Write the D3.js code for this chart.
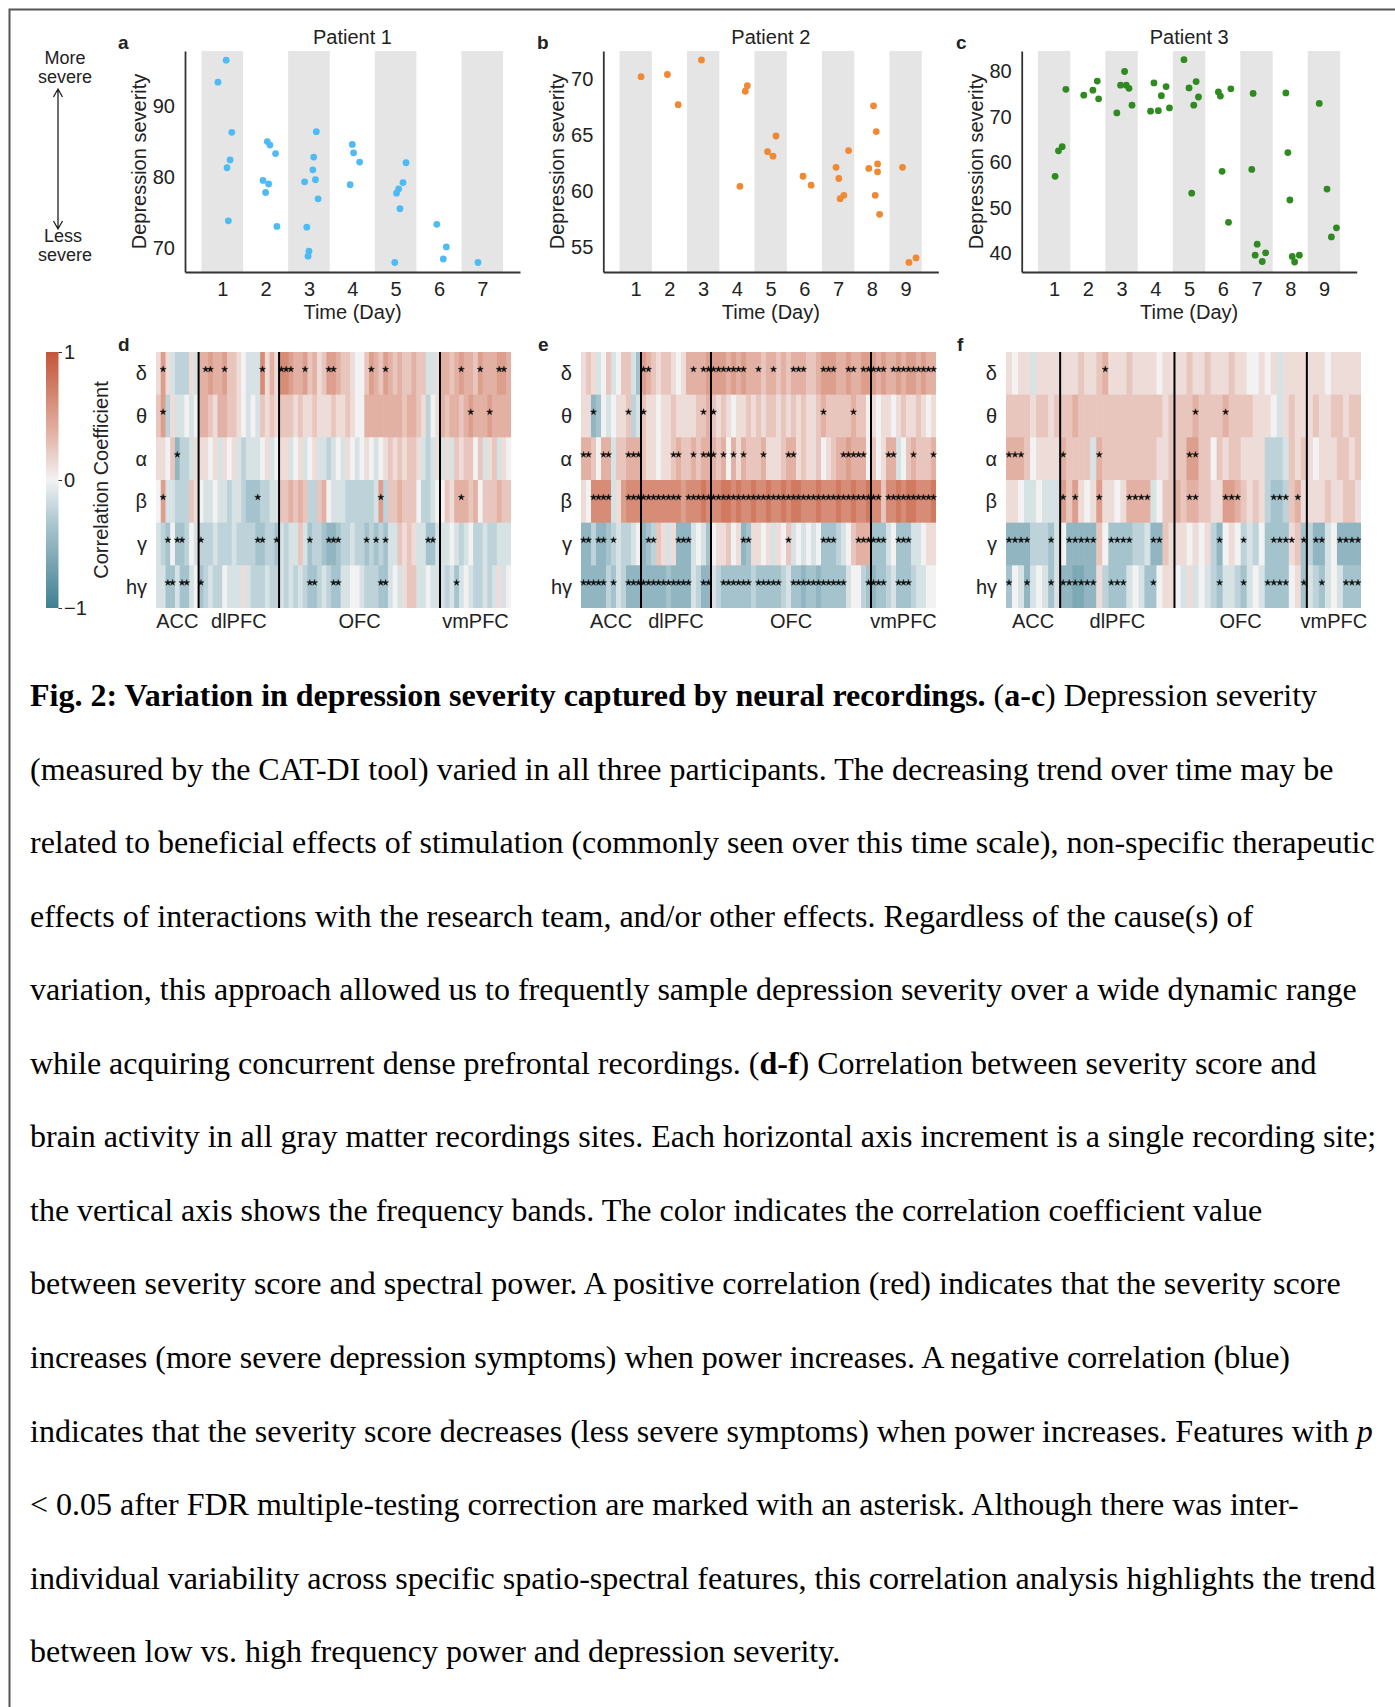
<!DOCTYPE html>
<html><head><meta charset="utf-8">
<script src="https://cdn.jsdelivr.net/npm/d3@7"></script>
<style>body{margin:0;background:#fff}svg{display:block}</style>
</head><body>
<svg id="fig" width="1395" height="1707"></svg>
<script>
// ---------------- Scatter data (time in days incl. jitter, severity) ----------------
const daysP1 = [1,2,3,4,5,6,7];
const daysP23 = [1,2,3,4,5,6,7,8,9];
const timeP1 = [1.09,0.90,1.22,1.18,1.11,1.14, 2.04,2.10,2.23,1.94,2.07,2.00,2.26, 3.17,3.11,3.09,2.90,3.15,3.21,2.95,3.00,2.98, 4.00,4.03,4.17,3.95, 5.24,5.17,5.07,5.02,5.10,4.98, 5.95,6.17,6.10, 6.90];
const sevP1  = [96.5,93.4,86.3,82.4,81.3,73.8, 85.0,84.5,83.3,79.5,79.0,77.8,73.0, 86.4,82.8,81.0,79.3,79.6,76.9,72.9,69.5,68.8, 84.6,83.4,82.1,78.9, 82.0,79.2,78.3,77.7,75.5,67.9, 73.3,70.1,68.4, 67.9];
const timeP2 = [1.16, 1.94,2.26, 2.95, 4.31,4.25,4.09, 5.16,4.91,5.07, 5.96,6.20, 7.31,6.94,7.02,7.17,7.06, 8.05,8.13,8.17,7.91,8.17,8.10,8.23, 8.91,9.31,9.10];
const sevP2  = [70.2, 70.4,67.7, 71.7, 69.4,68.9,60.4, 64.9,63.5,63.1, 61.3,60.5, 63.6,62.1,61.1,59.6,59.3, 67.6,65.3,62.4,62.0,61.7,59.6,57.9, 62.1,54.0,53.6];
const timeP3 = [1.35,1.24,1.13,1.03, 2.28,2.15,1.88,2.32, 3.09,2.97,3.14,3.22,3.31,2.86, 3.96,4.32,4.18,4.42,3.86,4.09, 4.85,5.21,5.00,5.28,5.14,5.08, 6.24,5.87,5.93,5.98,6.17, 6.90,6.86,7.02,7.27,6.96,7.17, 7.87,7.93,7.99,8.27,8.06,8.13, 8.86,9.09,9.37,9.22];
const sevP3  = [76.0,63.4,62.5,56.9, 77.8,75.8,74.7,73.9, 79.9,76.9,76.9,76.2,72.5,70.8, 77.4,76.6,74.6,71.9,71.2,71.3, 82.5,77.7,76.3,74.3,72.5,53.2, 76.1,75.4,74.5,58.0,46.8, 75.1,58.4,42.0,40.1,39.6,38.2, 75.2,62.1,51.7,39.6,39.3,38.1, 72.9,54.1,45.6,43.6];
const yTicksP1 = [70,80,90], yTicksP2 = [55,60,65,70], yTicksP3 = [40,50,60,70,80];

// ---------------- Heatmap data: correlation in level steps (1 step = 0.125) -------------
const bandLabels = ['δ','θ','α','β','γ','hγ'];
const regionNames = ['ACC','dlPFC','OFC','vmPFC'];
const regionSizesD = [9,17,34,15], regionSizesE = [12,14,32,13], regionSizesF = [9,19,22,9];

const dDelta = [1,4,1,-1,-2,-2,-2,1,-1, 3,3,4,3,3,4,2,2,1,0,-1,-1,-1,5,1,3,1, 5,5,4,3,3,4,2,3,1,2,4,4,3,2,2,1,0,0,2,4,3,2,4,3,2,3,2,2,3,2,2,-1,-1,1, 3,3,2,3,4,3,3,2,4,3,3,3,4,4,3];
const dTheta = [2,4,-2,1,-1,-1,0,-1,0, 3,3,2,1,3,3,2,2,1,0,-1,0,-1,2,1,2,1, 2,2,2,1,2,1,1,2,1,1,1,2,1,1,2,1,0,0,3,3,3,3,3,3,3,3,2,3,3,2,1,-2,0,1, 3,2,3,3,2,3,4,3,3,3,4,3,3,3,3];
const dAlpha = [1,1,0,2,-4,-2,-2,-1,1, 1,1,0,1,-1,1,0,1,-1,-2,-1,-1,-1,0,1,-1,0, 1,1,-1,0,1,-1,0,1,-1,-1,-2,-1,0,-1,1,0,-1,0,1,0,-1,0,1,2,1,2,1,2,2,1,-1,-2,-1,1, -1,1,-1,2,1,2,2,0,2,-1,1,2,-1,1,0];
const dBeta  = [0,4,-1,-1,-2,-2,-2,2,1, 0,-1,-1,0,-1,-1,-2,-1,-1,-2,-3,-3,-3,-2,-2,-1,-1, 2,2,3,2,3,2,-2,-2,2,3,0,-1,-1,-1,-2,-2,-2,-2,-2,-2,-1,4,-2,2,2,3,2,2,2,0,-2,-2,-1,0, 0,2,1,3,3,3,2,3,0,2,2,2,3,2,2];
const dGamma = [-1,-2,-3,0,-3,-3,-2,0,-1, -2,-2,-2,-1,-2,-2,-2,-1,-2,-2,-2,-2,-3,-3,-2,-2,-3, -1,-2,-1,-1,2,-1,-3,-2,-2,-3,-4,-4,-3,-2,-2,-1,-2,-2,-3,-2,-3,-2,-3,-1,-1,2,1,2,1,-1,-1,-3,-3,-1, -1,-1,0,-1,-2,-1,0,-2,-2,-1,-2,-2,-1,-1,-1];
const dHGamma= [-1,-1,-3,-3,-1,-3,-3,-1,0, -3,-2,-1,-2,-2,0,-1,-1,-1,1,-1,-2,-2,-2,-1,-2,-2, -1,-2,-1,-2,-1,-2,-3,-3,-2,-1,-2,-3,-3,-1,-1,0,0,-1,-2,-2,-2,-3,-3,-1,0,-1,1,2,2,-1,-1,0,-1,-1, -1,-2,-1,-3,-1,0,-1,-2,-2,-1,-2,-1,1,-1,0];
const dSigDelta = [1,10,11,14,22,26,27,28,31,36,37,45,48,64,68,72,73];
const dSigTheta = [1,66,70];
const dSigAlpha = [4];
const dSigBeta  = [1,21,47,64];
const dSigGamma = [2,4,5,9,21,22,25,32,36,37,38,44,46,48,57,58];
const dSigHGamma= [2,3,5,6,9,32,33,37,38,47,48,63];

const eDelta = [1,2,1,-1,0,2,-1,0,2,2,-1,-3, 4,3,2,1,2,2,1,0,1,3,3,3,3,4, 4,4,4,3,4,3,4,3,3,3,2,3,3,2,3,2,3,3,3,2,2,3,4,4,4,3,3,4,3,3,4,4, 4,3,4,3,3,4,3,4,4,3,4,3,3];
const eTheta = [1,1,-4,-3,0,-1,0,1,1,2,-2,-1, 2,1,1,0,1,1,2,1,1,1,1,2,2,3, 2,1,2,1,0,1,1,2,1,2,1,2,2,1,2,1,2,1,2,1,1,2,3,2,2,2,2,2,3,2,2,0, 1,0,1,1,0,1,2,1,1,2,1,0,1];
const eAlpha = [3,3,2,0,3,3,-1,2,2,3,3,3, 2,1,1,0,1,1,2,3,2,2,3,2,3,3, 3,2,3,0,3,1,3,2,2,2,3,1,1,1,2,3,3,1,2,1,1,2,0,1,2,3,3,4,3,3,3,0, 2,0,1,3,3,-1,0,2,3,2,2,2,3];
const eBeta  = [1,0,5,5,5,5,-1,1,4,5,5,5, 5,5,5,5,5,5,5,5,4,5,5,5,6,5, 5,5,6,6,5,6,5,5,6,5,5,6,5,5,6,5,6,6,5,5,5,6,5,5,5,6,5,5,6,5,5,6, 5,5,2,5,5,6,5,6,6,5,5,5,6];
const eGamma = [-4,-4,-2,-4,-4,-3,-2,-1,-2,-2,-1,0, -4,-3,-2,2,1,-1,1,-4,-4,-4,-1,0,-1,-3, 0,1,1,2,0,1,-4,-3,1,1,0,1,-1,1,0,2,-1,0,-1,0,-1,0,-3,-3,-3,-2,-1,0,2,3,3,3, -3,-3,-3,-1,0,-3,-3,-3,-1,-1,0,1,1];
const eHGamma= [-4,-4,-4,-4,-4,-2,-3,-1,-2,-4,-4,-4, -4,-4,-4,-4,-4,-3,-4,-4,-4,-4,-1,-2,-4,-4, -1,-2,-3,-3,-3,-3,-3,-3,-2,-3,-3,-3,-3,-3,-2,-1,-3,-3,-4,-3,-3,-4,-3,-3,-3,-3,-3,-1,0,0,-2,-3, -4,-3,-3,-2,-1,-3,-3,-3,-2,-1,-1,0,0];
const eSigDelta = [12,13,22,24,25,26,27,28,29,30,31,32,35,38,42,43,44,48,49,50,53,54,56,57,58,59,60,62,63,64,65,66,67,68,69,70];
const eSigTheta = [2,9,12,24,26,48,54];
const eSigAlpha = [0,1,4,5,9,10,11,18,19,22,24,25,26,28,30,32,36,41,42,52,53,54,55,56,61,62,66,70];
const eSigBeta  = [2,3,4,5,9,10,11,12,13,14,15,16,17,18,19,21,22,23,24,25,26,27,28,29,30,31,32,33,34,35,36,37,38,39,40,41,42,43,44,45,46,47,48,49,50,51,52,53,54,55,56,57,58,59,61,62,63,64,65,66,67,68,69,70];
const eSigGamma = [0,1,3,4,6,13,14,19,20,21,32,33,41,48,49,50,55,56,57,58,59,60,63,64,65];
const eSigHGamma= [0,1,2,3,4,6,9,10,11,12,13,14,15,16,17,18,19,20,21,24,25,28,29,30,31,32,33,35,36,37,38,39,42,43,44,45,46,47,48,49,50,51,52,57,58,59,60,63,64,65];

const fDelta = [1,0,1,1,-1,1,1,1,1, 1,1,1,2,1,1,2,3,1,1,1,2,1,1,1,1,0,1,1, 1,1,2,1,1,2,1,1,1,2,1,1,0,0,1,0,1,-1,1,1,1,1, 1,1,1,0,1,1,1,1,1];
const fTheta = [2,2,2,2,1,2,2,1,2, 2,2,3,2,2,2,2,2,2,2,2,2,2,2,2,2,2,1,2, 2,2,2,3,2,2,2,2,3,2,2,2,2,1,1,1,0,-1,1,2,1,1, 1,2,1,1,2,2,1,2,2];
const fAlpha = [3,3,3,2,0,1,1,1,1, 3,2,2,2,2,-1,3,2,2,2,2,2,2,2,2,2,1,1,2, 2,2,4,4,2,2,0,2,1,2,2,1,1,1,1,-2,-2,-2,-1,2,1,2, 1,0,1,1,1,2,2,1,2];
const fBeta  = [1,1,0,-1,-1,0,-1,-1,-1, 4,2,4,1,0,1,4,1,1,0,1,3,3,3,3,-1,0,2,2, 3,2,3,3,2,2,1,1,4,4,3,2,1,2,1,-2,-3,-3,-2,2,3,1, 1,1,1,2,1,1,2,2,1];
const fGamma = [-4,-4,-4,-4,-2,-2,-2,-3,-1, 0,-4,-4,-4,-4,-4,2,0,-3,-3,-3,-3,-2,-2,-1,-4,-4,2,1, 1,1,0,1,0,1,-2,-4,0,1,0,-2,-1,-2,0,-3,-3,-3,-3,1,2,-3, -2,-4,-4,-1,0,-4,-4,-4,-4];
const fHGamma= [-3,0,-1,-4,-1,0,-1,-3,-1, -4,-4,-5,-5,-4,-4,1,-2,-3,-3,-3,-1,0,-1,-3,-3,0,1,1, 0,-1,1,-1,0,-1,-2,-3,-1,-1,-2,-3,-1,0,-1,-3,-3,-3,-3,0,1,-3, -1,-2,-3,-1,0,-1,-3,-3,-3];
const fSigDelta = [16];
const fSigTheta = [31,36];
const fSigAlpha = [0,1,2,9,15,30,31];
const fSigBeta  = [9,11,15,20,21,22,23,30,31,36,37,38,44,45,46,48];
const fSigGamma = [0,1,2,3,7,10,11,12,13,14,17,18,19,20,24,25,35,39,44,45,46,47,49,51,52,55,56,57,58];
const fSigHGamma= [0,3,7,9,10,11,12,13,14,17,18,19,24,35,39,43,44,45,46,49,52,56,57,58];

const colorbarTicks = [1, 0, -1];
const LEVEL = 0.125;   // correlation per level step

// ---------------- Drawing ----------------
const svg = d3.select('#fig');
const SANS = "'Liberation Sans', Arial, Helvetica, sans-serif";
const SERIF = "'Liberation Serif', 'Times New Roman', serif";
const INK = '#222';

// frame
svg.append('path').attr('d','M9.5,1707 V9.5 H1395').attr('fill','none').attr('stroke','#555').attr('stroke-width',2);

const color = d3.scaleLinear()
  .domain([-1,-2/3,-1/3,0,1/3,2/3,1])
  .range(['#3f7f93','#76a3b1','#abc7d0','#f2f2f2','#e4b7ab','#d4866f','#c3553a'])
  .interpolate(d3.interpolateRgb).clamp(true);

function letter(t, x, y){
  svg.append('text').attr('x',x).attr('y',y).text(t)
    .attr('font-family',SANS).attr('font-weight','bold').attr('font-size',19).attr('fill',INK);
}

const PT = 51, PB = 272;
function scatterPanel(cfg){
  const x = d3.scaleLinear().domain(cfg.xDomain).range([cfg.left, cfg.left+335]);
  const y = d3.scaleLinear().domain(cfg.yDomain).range([PB, PT]);
  const g = svg.append('g');
  g.selectAll('rect.band').data(cfg.days.filter(d => d % 2 === 1)).join('rect')
    .attr('x', d => x(d-0.48)).attr('width', d => x(d+0.48)-x(d-0.48))
    .attr('y', PT).attr('height', PB-PT).attr('fill','#e5e5e5');
  const xa = g.append('g').attr('transform',`translate(0,${PB})`)
    .call(d3.axisBottom(x).tickValues(cfg.days).tickSize(0).tickSizeOuter(0).tickPadding(10).tickFormat(d3.format('d')));
  const ya = g.append('g').attr('transform',`translate(${cfg.left},0)`)
    .call(d3.axisLeft(y).tickValues(cfg.yTicks).tickSize(0).tickSizeOuter(0).tickPadding(10).tickFormat(d3.format('d')));
  [xa, ya].forEach(a => {
    a.select('.domain').attr('stroke','#333').attr('stroke-width',1.8);
    a.selectAll('text').attr('font-family',SANS).attr('font-size',20).attr('fill',INK);
  });
  g.selectAll('circle').data(cfg.time.map((t,i)=>[t,cfg.sev[i]])).join('circle')
    .attr('cx', d => x(d[0])).attr('cy', d => y(d[1])).attr('r',3.4).attr('fill',cfg.color);
  g.append('text').attr('x', cfg.left+167.5).attr('y', 44).attr('text-anchor','middle')
    .attr('font-family',SANS).attr('font-size',20).attr('fill',INK).text(cfg.title);
  g.append('text').attr('x', cfg.left+167.5).attr('y', 319).attr('text-anchor','middle')
    .attr('font-family',SANS).attr('font-size',20).attr('fill',INK).text('Time (Day)');
  g.append('text').attr('transform',`translate(${cfg.left-46},${(PT+PB)/2}) rotate(-90)`)
    .attr('text-anchor','middle').attr('dy','0.35em')
    .attr('font-family',SANS).attr('font-size',20).attr('fill',INK).text('Depression severity');
}

scatterPanel({left:185, xDomain:[0.14,7.87], yDomain:[66.56,97.8], days:daysP1, yTicks:yTicksP1, time:timeP1, sev:sevP1, color:'#4fbbf5', title:'Patient 1'});
scatterPanel({left:603.3, xDomain:[0.04,9.97], yDomain:[52.74,72.5], days:daysP23, yTicks:yTicksP2, time:timeP2, sev:sevP2, color:'#ef8933', title:'Patient 2'});
scatterPanel({left:1021.7, xDomain:[0.04,9.97], yDomain:[35.9,84.4], days:daysP23, yTicks:yTicksP3, time:timeP3, sev:sevP3, color:'#2f8a20', title:'Patient 3'});
letter('a',118,49); letter('b',537,49); letter('c',956,49);

// More / Less severe annotation
const ann = svg.append('g').attr('font-family',SANS).attr('font-size',18).attr('fill',INK).attr('text-anchor','middle');
ann.append('text').attr('x',65).attr('y',64).text('More');
ann.append('text').attr('x',65).attr('y',83).text('severe');
ann.append('text').attr('x',63).attr('y',242).text('Less');
ann.append('text').attr('x',65).attr('y',261).text('severe');
const ax = 58, ay1 = 89, ay2 = 229;
svg.append('path').attr('d',`M${ax},${ay1} V${ay2} M${ax-4.5},${ay1+8} L${ax},${ay1} L${ax+4.5},${ay1+8} M${ax-4.5},${ay2-8} L${ax},${ay2} L${ax+4.5},${ay2-8}`)
  .attr('fill','none').attr('stroke','#222').attr('stroke-width',1.3);

// Heatmaps
const HT = 352, HB = 608, HW = 355;
function heatPanel(cfg){
  const n = cfg.rows[0].length;
  const x = d3.scaleBand().domain(d3.range(n)).range([cfg.left, cfg.left+HW]);
  const y = d3.scaleBand().domain(bandLabels).range([HT, HB]);
  const bw = x.bandwidth(), bh = y.bandwidth();
  const g = svg.append('g');
  cfg.rows.forEach((row, r) => {
    g.append('g').selectAll('rect').data(row).join('rect')
      .attr('x', (v,i) => x(i)).attr('y', y(bandLabels[r]))
      .attr('width', (v,i) => i === n-1 ? bw : bw+0.6)
      .attr('height', r === 5 ? bh : bh+0.6)
      .attr('fill', v => color(v*LEVEL));
  });
  const star = d3.symbol(d3.symbolStar, 12);
  cfg.sig.forEach((cols, r) => {
    g.append('g').selectAll('path').data(cols).join('path')
      .attr('d', star)
      .attr('transform', i => `translate(${x(i)+bw/2},${y(bandLabels[r])+bh/2-4})`)
      .attr('fill','#111').attr('stroke','#111').attr('stroke-width',0.4).attr('stroke-linejoin','round');
  });
  let start = 0;
  cfg.sizes.forEach((s, k) => {
    const x0 = x(start), x1 = x0 + s*bw;
    if (k > 0) g.append('line').attr('x1',x0).attr('x2',x0).attr('y1',HT).attr('y2',HB)
      .attr('stroke','#000').attr('stroke-width',2);
    g.append('text').attr('x',(x0+x1)/2).attr('y',628).attr('text-anchor','middle')
      .attr('font-family',SANS).attr('font-size',20).attr('fill',INK).text(regionNames[k]);
    start += s;
  });
  g.selectAll('text.band').data(bandLabels).join('text')
    .attr('x', cfg.left-9).attr('y', d => y(d)+bh/2).attr('dy','0.35em')
    .attr('text-anchor','end').attr('font-family',SANS).attr('font-size',20).attr('fill',INK)
    .text(d => d);
}
heatPanel({left:156, rows:[dDelta,dTheta,dAlpha,dBeta,dGamma,dHGamma], sig:[dSigDelta,dSigTheta,dSigAlpha,dSigBeta,dSigGamma,dSigHGamma], sizes:regionSizesD});
heatPanel({left:581, rows:[eDelta,eTheta,eAlpha,eBeta,eGamma,eHGamma], sig:[eSigDelta,eSigTheta,eSigAlpha,eSigBeta,eSigGamma,eSigHGamma], sizes:regionSizesE});
heatPanel({left:1006, rows:[fDelta,fTheta,fAlpha,fBeta,fGamma,fHGamma], sig:[fSigDelta,fSigTheta,fSigAlpha,fSigBeta,fSigGamma,fSigHGamma], sizes:regionSizesF});
letter('d',118,351); letter('e',538,351); letter('f',957,351);

// Colorbar
const cy = d3.scaleLinear().domain([-1,1]).range([HB, HT]);
const defs = svg.append('defs');
const grad = defs.append('linearGradient').attr('id','cbar').attr('x1',0).attr('x2',0).attr('y1',1).attr('y2',0);
d3.range(0,21).forEach(k => {
  const v = -1 + k*0.1;
  grad.append('stop').attr('offset', (k/20)).attr('stop-color', color(v));
});
svg.append('rect').attr('x',46).attr('y',HT).attr('width',12.5).attr('height',HB-HT).attr('fill','url(#cbar)');
const cax = svg.append('g').attr('transform','translate(58.5,0)')
  .call(d3.axisRight(cy).tickValues(colorbarTicks).tickSize(3.5).tickPadding(2).tickFormat(d => d < 0 ? '−1' : String(d)));
cax.select('.domain').remove();
cax.selectAll('line').attr('stroke','#333');
cax.selectAll('text').attr('font-family',SANS).attr('font-size',20).attr('fill',INK);
svg.append('text').attr('transform',`translate(101,${(HT+HB)/2}) rotate(-90)`).attr('text-anchor','middle').attr('dy','0.35em')
  .attr('font-family',SANS).attr('font-size',20).attr('fill',INK).text('Correlation Coefficient');

// Caption
const captionLines = [
  [['b','Fig. 2: Variation in depression severity captured by neural recordings.'],['n',' ('],['b','a-c'],['n',') Depression severity']],
  [['n','(measured by the CAT-DI tool) varied in all three participants. The decreasing trend over time may be']],
  [['n','related to beneficial effects of stimulation (commonly seen over this time scale), non-specific therapeutic']],
  [['n','effects of interactions with the research team, and/or other effects. Regardless of the cause(s) of']],
  [['n','variation, this approach allowed us to frequently sample depression severity over a wide dynamic range']],
  [['n','while acquiring concurrent dense prefrontal recordings. ('],['b','d-f'],['n',') Correlation between severity score and']],
  [['n','brain activity in all gray matter recordings sites. Each horizontal axis increment is a single recording site;']],
  [['n','the vertical axis shows the frequency bands. The color indicates the correlation coefficient value']],
  [['n','between severity score and spectral power. A positive correlation (red) indicates that the severity score']],
  [['n','increases (more severe depression symptoms) when power increases. A negative correlation (blue)']],
  [['n','indicates that the severity score decreases (less severe symptoms) when power increases. Features with '],['i','p']],
  [['n','< 0.05 after FDR multiple-testing correction are marked with an asterisk. Although there was inter-']],
  [['n','individual variability across specific spatio-spectral features, this correlation analysis highlights the trend']],
  [['n','between low vs. high frequency power and depression severity.']]
];
const cap = svg.append('g').attr('font-family',SERIF).attr('font-size',32).attr('fill','#000');
captionLines.forEach((parts, k) => {
  const t = cap.append('text').attr('x',30).attr('y',706 + k*73.55).attr('xml:space','preserve');
  parts.forEach(([s, str]) => {
    const ts = t.append('tspan').text(str);
    if (s === 'b') ts.attr('font-weight','bold');
    if (s === 'i') ts.attr('font-style','italic');
  });
});
</script>
</body></html>
